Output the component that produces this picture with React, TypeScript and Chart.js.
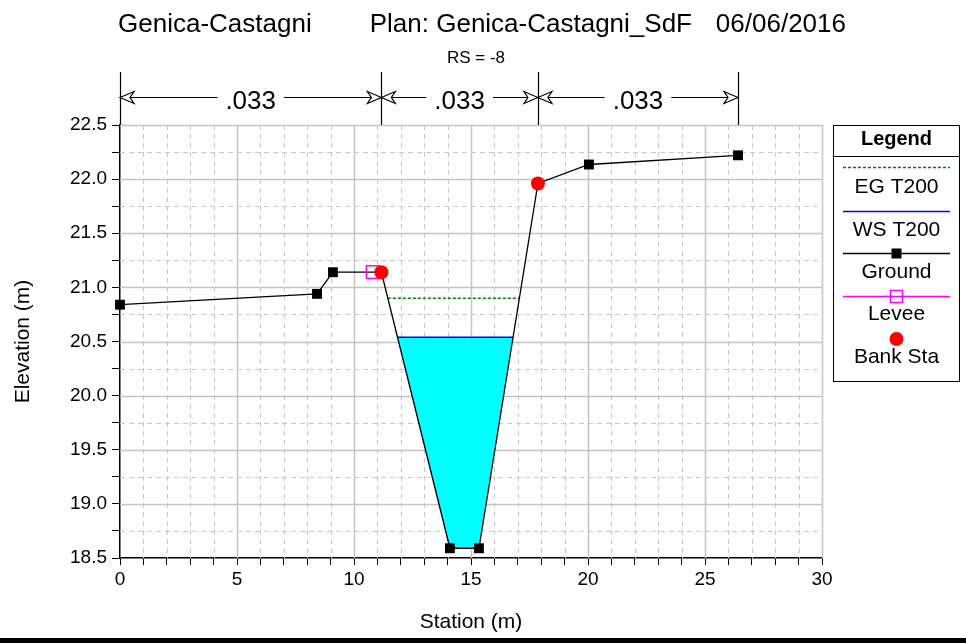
import React, { useEffect, useRef } from 'react';
import { Chart, registerables } from 'chart.js';

Chart.register(...registerables);

// ---------- data ----------
const titleParts = ['Genica-Castagni', 'Plan: Genica-Castagni_SdF', '06/06/2016'];
const subTitle = 'RS = -8';
const xTitle = 'Station (m)';
const yTitle = 'Elevation (m)';

const groundStation = [0, 8.42, 9.1, 11.17, 14.1, 15.34, 17.86, 20.04, 26.41];
const groundElev = [20.84, 20.94, 21.14, 21.14, 18.59, 18.59, 21.96, 22.135, 22.22];
const leveeStation = [10.8];
const leveeElev = [21.14];
const bankStation = [11.17, 17.86];
const bankElev = [21.14, 21.96];
const wsElev = 20.54;
const egElev = 20.9;
const nValues = ['.033', '.033', '.033'];
const legendLabels = ['EG T200', 'WS T200', 'Ground', 'Levee', 'Bank Sta'];

const xMin = 0;
const xMax = 30;
const xStep = 1;
const xLabelEvery = 5;
const yMin = 18.5;
const yMax = 22.5;
const yStep = 0.25;
const yLabelEvery = 0.5;

const FONT = '"Liberation Sans", Arial, sans-serif';

// crossing of ground profile with a level, around the channel low point
function crossings(level: number) {
  let iMin = 0;
  groundElev.forEach((e, i) => { if (e < groundElev[iMin]) iMin = i; });
  let i = iMin;
  while (i > 0 && groundElev[i - 1] < level) i--;
  const a = i - 1;
  const tl = (groundElev[a] - level) / (groundElev[a] - groundElev[a + 1]);
  const left = groundStation[a] + tl * (groundStation[a + 1] - groundStation[a]);
  let j = iMin;
  while (j < groundElev.length - 1 && groundElev[j + 1] < level) j++;
  const tr = (level - groundElev[j]) / (groundElev[j + 1] - groundElev[j]);
  const right = groundStation[j] + tr * (groundStation[j + 1] - groundStation[j]);
  const inner: { x: number; y: number }[] = [];
  for (let k = a + 1; k <= j; k++) inner.push({ x: groundStation[k], y: groundElev[k] });
  return { left, right, inner };
}

const ws = crossings(wsElev);
const eg = crossings(egElev);

const waterPoly = [{ x: ws.left, y: wsElev }, ...ws.inner, { x: ws.right, y: wsElev }];
const wsLine = [{ x: ws.left, y: wsElev }, { x: ws.right, y: wsElev }];
const egLine = [{ x: eg.left, y: egElev }, { x: eg.right, y: egElev }];
const groundPts = groundStation.map((s, i) => ({ x: s, y: groundElev[i] }));
const leveePts = leveeStation.map((s, i) => ({ x: s, y: leveeElev[i] }));
const bankPts = bankStation.map((s, i) => ({ x: s, y: bankElev[i] }));

// ---------- plugins ----------
const gridPlugin = {
  id: 'hecGrid',
  beforeDatasetsDraw(chart: any) {
    const { ctx, chartArea: ca, scales } = chart;
    const sx = scales.x;
    const sy = scales.y;
    ctx.save();
    for (let v = xMin + xStep; v <= xMax + 1e-9; v += xStep) {
      const px = Math.round(sx.getPixelForValue(v)) + 0.5;
      const major = Math.abs(v / xLabelEvery - Math.round(v / xLabelEvery)) < 1e-6;
      ctx.beginPath();
      ctx.strokeStyle = major ? '#c4c4c4' : '#c8c8c8';
      ctx.lineWidth = major ? 1.5 : 1;
      ctx.setLineDash(major ? [] : [5, 4]);
      ctx.moveTo(px, ca.top);
      ctx.lineTo(px, ca.bottom);
      ctx.stroke();
    }
    for (let v = yMin + yStep; v <= yMax + 1e-9; v += yStep) {
      const py = Math.round(sy.getPixelForValue(v)) + 0.5;
      const major = Math.abs(v / yLabelEvery - Math.round(v / yLabelEvery)) < 1e-6;
      ctx.beginPath();
      ctx.strokeStyle = major ? '#c4c4c4' : '#c8c8c8';
      ctx.lineWidth = major ? 1.5 : 1;
      ctx.setLineDash(major ? [] : [5, 4]);
      ctx.moveTo(ca.left, py);
      ctx.lineTo(ca.right, py);
      ctx.stroke();
    }
    ctx.restore();
  },
};

function arrowHead(ctx: CanvasRenderingContext2D, tip: number, y: number, dir: number) {
  // dir = -1 : points left ; dir = 1 : points right
  const back = tip - dir * 14;
  const notch = tip - dir * 10;
  ctx.beginPath();
  ctx.moveTo(tip, y);
  ctx.lineTo(back, y - 6);
  ctx.lineTo(notch, y);
  ctx.lineTo(back, y + 6);
  ctx.closePath();
  ctx.fillStyle = '#fff';
  ctx.fill();
  ctx.stroke();
}

const overlayPlugin = {
  id: 'hecOverlay',
  afterDraw(chart: any) {
    const { ctx, chartArea: ca, scales } = chart;
    const sx = scales.x;
    ctx.save();
    ctx.fillStyle = '#000';
    ctx.textBaseline = 'alphabetic';
    // titles
    ctx.font = `26px ${FONT}`;
    ctx.textAlign = 'left';
    ctx.fillText(titleParts[0], 118, 32);
    ctx.textAlign = 'right';
    ctx.fillText(titleParts[1], 692, 32);
    ctx.fillText(titleParts[2], 846, 32);
    ctx.font = `17px ${FONT}`;
    ctx.textAlign = 'center';
    ctx.fillText(subTitle, 476, 63);

    // Manning n bar
    const bounds = [groundStation[0], bankStation[0], bankStation[1], groundStation[groundStation.length - 1]];
    const yLine = 97.5;
    ctx.strokeStyle = '#000';
    ctx.lineWidth = 1.2;
    bounds.forEach((b) => {
      const px = Math.round(sx.getPixelForValue(b)) + 0.5;
      ctx.beginPath();
      ctx.moveTo(px, 72);
      ctx.lineTo(px, ca.top);
      ctx.stroke();
    });
    ctx.font = `26px ${FONT}`;
    ctx.textAlign = 'center';
    for (let i = 0; i < nValues.length; i++) {
      const a = sx.getPixelForValue(bounds[i]);
      const b = sx.getPixelForValue(bounds[i + 1]);
      const mid = (a + b) / 2;
      const w = ctx.measureText(nValues[i]).width;
      ctx.beginPath();
      ctx.moveTo(a, yLine);
      ctx.lineTo(mid - w / 2 - 8, yLine);
      ctx.moveTo(mid + w / 2 + 8, yLine);
      ctx.lineTo(b, yLine);
      ctx.stroke();
      arrowHead(ctx, a, yLine, -1);
      arrowHead(ctx, b, yLine, 1);
      ctx.fillStyle = '#000';
      ctx.fillText(nValues[i], mid, 109);
    }

    // legend
    const ds = chart.data.datasets;
    const L = 833.5, T = 125.5, W = 126, H = 256;
    const cx = L + W / 2;
    ctx.lineWidth = 1;
    ctx.strokeStyle = '#000';
    ctx.setLineDash([]);
    ctx.strokeRect(L, T, W, H);
    ctx.beginPath();
    ctx.moveTo(L, 156.5);
    ctx.lineTo(L + W, 156.5);
    ctx.stroke();
    ctx.font = `bold 20px ${FONT}`;
    ctx.textBaseline = 'middle';
    ctx.fillText('Legend', cx, 139);
    ctx.font = `21px ${FONT}`;
    const x0 = 843, x1 = 950;
    const rows = [
      { ly: 167.5, ty: 187, d: ds[1], marker: 'none' },
      { ly: 211.5, ty: 230, d: ds[2], marker: 'none' },
      { ly: 253.5, ty: 272, d: ds[3], marker: 'rect' },
      { ly: 296.5, ty: 314, d: ds[4], marker: 'hollow' },
      { ly: 339, ty: 357, d: ds[5], marker: 'circle' },
    ];
    rows.forEach((r, i) => {
      const d: any = r.d;
      if (r.marker !== 'circle') {
        ctx.beginPath();
        ctx.strokeStyle = d.borderColor;
        ctx.lineWidth = 1.5;
        ctx.setLineDash(d.borderDash || []);
        ctx.moveTo(x0, r.ly);
        ctx.lineTo(x1, r.ly);
        ctx.stroke();
        ctx.setLineDash([]);
      }
      if (r.marker === 'rect') {
        ctx.fillStyle = d.pointBackgroundColor;
        ctx.fillRect(cx - 5, r.ly - 5, 10, 10);
      } else if (r.marker === 'hollow') {
        ctx.strokeStyle = d.pointBorderColor;
        ctx.lineWidth = 1.5;
        ctx.strokeRect(cx - 6, r.ly - 6, 12, 12);
      } else if (r.marker === 'circle') {
        ctx.beginPath();
        ctx.fillStyle = d.pointBackgroundColor;
        ctx.arc(cx, r.ly, 7, 0, Math.PI * 2);
        ctx.fill();
      }
      ctx.fillStyle = '#000';
      ctx.fillText(legendLabels[i], cx, r.ty);
    });

    // bottom frame bar
    ctx.fillStyle = '#000';
    ctx.fillRect(0, 638, chart.width, 5);
    ctx.restore();
  },
};

// ---------- component ----------
export default function App() {
  const ref = useRef<HTMLCanvasElement>(null);
  useEffect(() => {
    document.body.style.margin = '0';
    const canvas = ref.current as HTMLCanvasElement;
    const chart = new Chart(canvas, {
      type: 'scatter',
      data: {
        datasets: [
          {
            label: 'Water',
            data: waterPoly,
            showLine: true,
            borderWidth: 0,
            borderColor: 'rgba(0,0,0,0)',
            backgroundColor: '#00ffff',
            fill: { value: wsElev },
            pointRadius: 0,
            order: 6,
            clip: false,
          } as any,
          {
            label: legendLabels[0],
            data: egLine,
            showLine: true,
            borderColor: '#008000',
            borderWidth: 1.5,
            borderDash: [3, 2],
            pointRadius: 0,
            order: 5,
          },
          {
            label: legendLabels[1],
            data: wsLine,
            showLine: true,
            borderColor: '#0000ff',
            borderWidth: 1.5,
            pointRadius: 0,
            order: 4,
          },
          {
            label: legendLabels[2],
            data: groundPts,
            showLine: true,
            borderColor: '#000',
            borderWidth: 1.3,
            pointStyle: 'rect',
            pointRadius: 7,
            pointBackgroundColor: '#000',
            pointBorderWidth: 0,
            order: 3,
            clip: false,
          } as any,
          {
            label: legendLabels[3],
            data: leveePts,
            showLine: false,
            borderColor: '#ff00ff',
            pointStyle: 'rect',
            pointRadius: 9,
            pointBackgroundColor: 'rgba(0,0,0,0)',
            pointBorderColor: '#ff00ff',
            pointBorderWidth: 1.5,
            order: 2,
            clip: false,
          } as any,
          {
            label: legendLabels[4],
            data: bankPts,
            showLine: false,
            pointStyle: 'circle',
            pointRadius: 7,
            pointBackgroundColor: '#ff0000',
            pointBorderColor: '#ff0000',
            pointBorderWidth: 0,
            order: 1,
            clip: false,
          } as any,
        ],
      },
      options: {
        responsive: false,
        animation: false,
        events: [],
        layout: { padding: { top: 125, right: 144, left: 0, bottom: 0 } },
        plugins: {
          legend: { display: false },
          title: { display: false },
          tooltip: { enabled: false },
        },
        scales: {
          x: {
            type: 'linear',
            min: xMin,
            max: xMax,
            afterFit: (s: any) => { s.height = 85; },
            ticks: {
              stepSize: xStep,
              autoSkip: false,
              maxRotation: 0,
              padding: 3,
              color: '#000',
              font: { family: FONT, size: 19 },
              callback: (v: any) => (Math.abs(v % xLabelEvery) < 1e-6 ? String(v) : ''),
            },
            grid: { drawOnChartArea: false, drawTicks: true, tickLength: 7, tickColor: '#000', tickWidth: 1 },
            border: { display: true, color: '#000', width: 1.5 },
            title: {
              display: true,
              text: xTitle,
              color: '#000',
              font: { family: FONT, size: 21 },
              padding: { top: 0, bottom: 8 },
            },
          },
          y: {
            type: 'linear',
            min: yMin,
            max: yMax,
            afterFit: (s: any) => { s.width = 120; },
            ticks: {
              stepSize: yStep,
              autoSkip: false,
              padding: 5,
              color: '#000',
              font: { family: FONT, size: 19 },
              callback: (v: any) => {
                const r = v / yLabelEvery;
                return Math.abs(r - Math.round(r)) < 1e-6 ? Number(v).toFixed(1) : '';
              },
            },
            grid: { drawOnChartArea: false, drawTicks: true, tickLength: 8, tickColor: '#000', tickWidth: 1 },
            border: { display: true, color: '#000', width: 1.5 },
            title: {
              display: true,
              text: yTitle,
              color: '#000',
              font: { family: FONT, size: 21 },
              padding: { top: 11, bottom: 0 },
            },
          },
        },
      } as any,
      plugins: [gridPlugin, overlayPlugin],
    });
    return () => chart.destroy();
  }, []);
  return (
    <div style={{ width: 966, height: 643, background: '#fff' }}>
      <canvas ref={ref} width={966} height={643} style={{ display: 'block' }} />
    </div>
  );
}
